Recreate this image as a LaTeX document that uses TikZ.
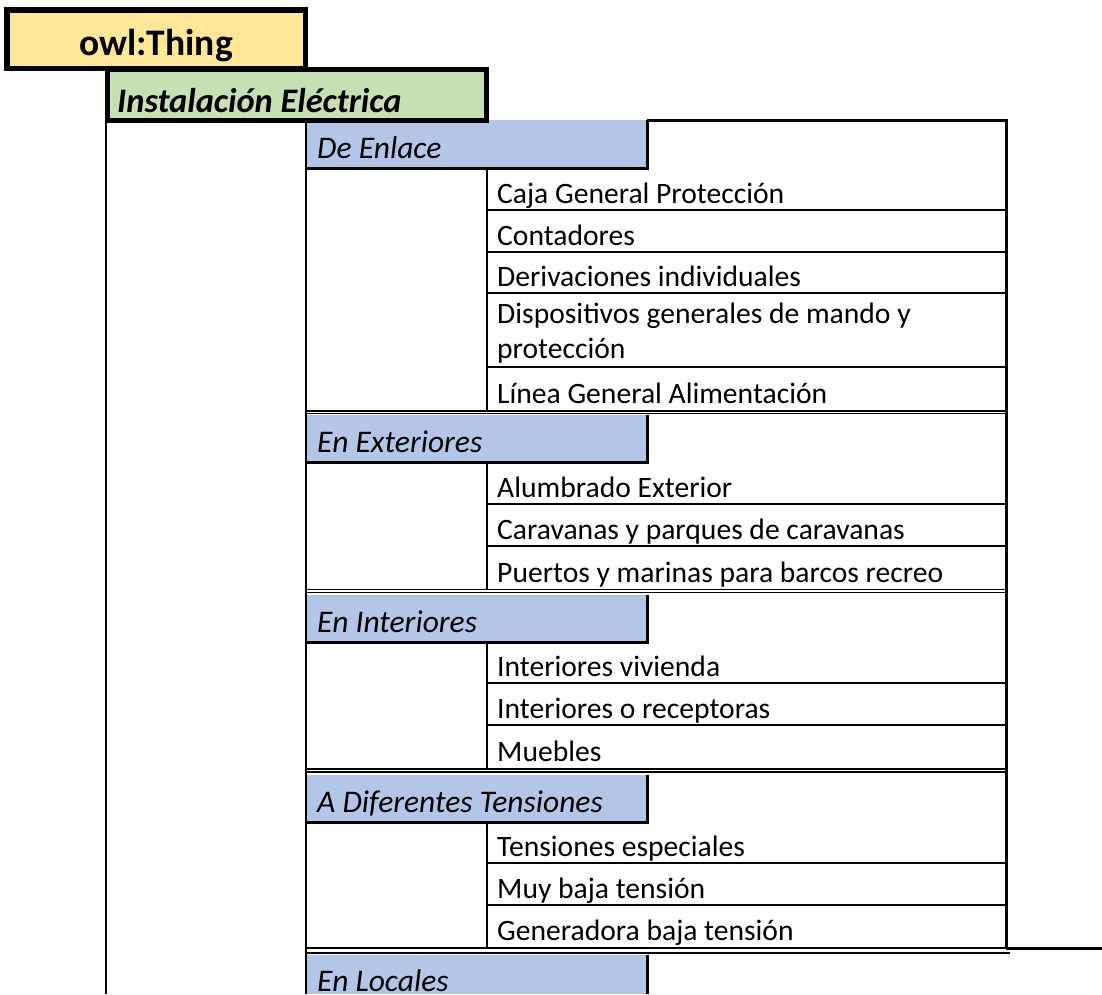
\documentclass[tikz,border=0pt]{standalone}
\usepackage{fontspec}
\setmainfont{Carlito}
\definecolor{thingfill}{HTML}{FFE699}
\definecolor{instfill}{HTML}{C6E0B4}
\definecolor{hdrfill}{HTML}{B4C6E7}
\begin{document}
\begin{tikzpicture}[x=1pt,y=-1pt,
  hdrtext/.style={anchor=base west, inner sep=0pt, font=\fontsize{31.5}{31.5}\selectfont\itshape},
  itemtext/.style={anchor=base west, inner sep=0pt, font=\fontsize{29.6}{29.6}\selectfont},
  frameline/.style={line width=2.6pt},
  hdrline/.style={line width=3pt},
  colline/.style={line width=2.3pt},
  rowline/.style={line width=2pt},
  dblline/.style={line width=1.7pt},
  boxline/.style={line width=5.5pt}
]
\useasboundingbox (0,0) rectangle (1102,994);
% long verticals
\draw[frameline] (106,120) -- (106,994);
% header fills
\foreach \t/\b in {120/168, 415/462, 595/642, 775/822, 955/994}{
  \fill[hdrfill] (306,\t) rectangle (647,\b);
}
% header borders
\foreach \t/\b in {120/168, 415/462, 595/642, 775/822}{
  \draw[hdrline] (306,\b) -- (647,\b) -- (647,\t);
}
\draw[hdrline] (647,955) -- (647,994);
% outer frame
\draw[frameline] (306,120) -- (306,994);
\draw[hdrline] (647,120) -- (1007.5,120);
\draw[hdrline] (1006,120) -- (1006,948);
% item columns
\draw[colline] (487,168) -- (487,410);
\draw[colline] (487,462) -- (487,589);
\draw[colline] (487,642) -- (487,768);
\draw[colline] (487,822) -- (487,947);
% row separators
\foreach \y in {210,252,293,367, 504,546, 683,725, 863,905}{
  \draw[rowline] (487,\y) -- (1006,\y);
}
% double lines
\foreach \a/\b in {410.8/413.6, 589.6/592.6, 769.2/772.2}{
  \draw[dblline] (306,\a) -- (1006,\a);
  \draw[dblline] (306,\b) -- (1006,\b);
}
\draw[dblline] (306,948) -- (1006,948);
\draw[hdrline] (1006,948) -- (1102,948);
\draw[dblline] (306,953) -- (1010,953);
% title boxes
\draw[boxline, fill=thingfill] (7,10) rectangle (305.5,68.5);
\draw[boxline, fill=instfill] (107.5,69.5) rectangle (486.5,120.5);
\node[anchor=base, inner sep=0pt, font=\fontsize{37.5}{37.5}\selectfont\bfseries] (thing) at (156,55) {owl:Thing};
\node[anchor=base west, inner sep=0pt, font=\fontsize{34.4}{34.4}\selectfont\bfseries\itshape] (inst) at (117,112) {Instalación Eléctrica};
% headers
\node[hdrtext] (h1) at (317,158) {De Enlace};
\node[hdrtext] (h2) at (317,452) {En Exteriores};
\node[hdrtext] (h3) at (317,632) {En Interiores};
\node[hdrtext] (h4) at (317,812) {A Diferentes Tensiones};
\node[hdrtext, text depth=0pt] (h5) at (317,991) {En Locales};
% items
\node[itemtext] (i11) at (497,203) {Caja General Protección};
\node[itemtext] (i12) at (497,245) {Contadores};
\node[itemtext] (i13) at (497,286) {Derivaciones individuales};
\node[itemtext] (i14a) at (497,323) {Dispositivos generales de mando y};
\node[itemtext] (i14b) at (497,358) {protección};
\node[itemtext] (i15) at (497,403) {Línea General Alimentación};
\node[itemtext] (i21) at (497,497) {Alumbrado Exterior};
\node[itemtext] (i22) at (497,539) {Caravanas y parques de caravanas};
\node[itemtext] (i23) at (497,582) {Puertos y marinas para barcos recreo};
\node[itemtext] (i31) at (497,676) {Interiores vivienda};
\node[itemtext] (i32) at (497,718) {Interiores o receptoras};
\node[itemtext] (i33) at (497,761) {Muebles};
\node[itemtext] (i41) at (497,856) {Tensiones especiales};
\node[itemtext] (i42) at (497,898) {Muy baja tensión};
\node[itemtext] (i43) at (497,940) {Generadora baja tensión};
\end{tikzpicture}
\end{document}
